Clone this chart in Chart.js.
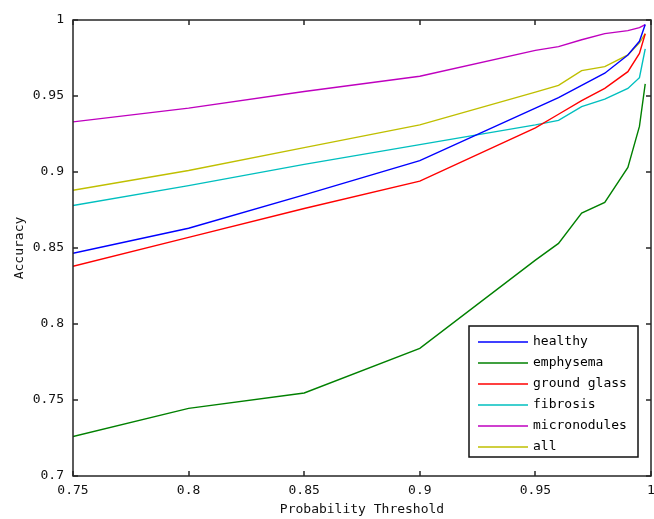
<!DOCTYPE html>
<html>
<head>
<meta charset="utf-8">
<script src="https://cdn.jsdelivr.net/npm/chart.js@4"></script>
<style>
  html, body { margin: 0; padding: 0; background: #fff; }
  canvas { display: block; }
</style>
</head>
<body>
<canvas id="accChart" width="654" height="519"></canvas>
<script>
// probability thresholds (x) and accuracy per class (y)
const thresholds   = [0.75, 0.8, 0.85, 0.9, 0.95, 0.96, 0.97, 0.98, 0.99, 0.995, 0.9975];
const healthy      = [0.8465, 0.863, 0.885, 0.9075, 0.942, 0.949, 0.957, 0.965, 0.977, 0.986, 0.997];
const emphysema    = [0.726, 0.7445, 0.7546, 0.784, 0.842, 0.853, 0.873, 0.880, 0.903, 0.930, 0.958];
const groundGlass  = [0.838, 0.857, 0.876, 0.894, 0.929, 0.938, 0.947, 0.955, 0.966, 0.978, 0.991];
const fibrosis     = [0.878, 0.891, 0.905, 0.918, 0.931, 0.934, 0.943, 0.948, 0.955, 0.962, 0.981];
const micronodules = [0.933, 0.942, 0.953, 0.963, 0.980, 0.9825, 0.987, 0.991, 0.993, 0.995, 0.997];
const allClasses   = [0.888, 0.901, 0.916, 0.931, 0.9525, 0.957, 0.9667, 0.9693, 0.977, 0.985, 0.991];

const seriesNames  = ["healthy", "emphysema", "ground glass", "fibrosis", "micronodules", "all"];
const seriesValues = [healthy, emphysema, groundGlass, fibrosis, micronodules, allClasses];
const seriesColors = ["#0000ff", "#008000", "#ff0000", "#00bfbf", "#bf00bf", "#bfbf00"];

const xTicks = [0.75, 0.8, 0.85, 0.9, 0.95, 1];
const yTicks = [0.7, 0.75, 0.8, 0.85, 0.9, 0.95, 1];

const monoFont = { family: "'DejaVu Sans Mono', monospace", size: 13 };

// matlab style: box, inward ticks on all sides, legend inside lower right
const matlabFrame = {
  id: "matlabFrame",
  afterDraw(chart) {
    const { ctx, chartArea: a, scales: { x, y } } = chart;
    ctx.save();
    ctx.strokeStyle = "#262626";
    ctx.lineWidth = 1.5;
    ctx.strokeRect(a.left, a.top, a.right - a.left, a.bottom - a.top);

    const tl = 5;
    ctx.beginPath();
    x.ticks.forEach(t => {
      const px = Math.round(x.getPixelForValue(t.value));
      ctx.moveTo(px, a.bottom); ctx.lineTo(px, a.bottom - tl);
      ctx.moveTo(px, a.top); ctx.lineTo(px, a.top + tl);
    });
    y.ticks.forEach(t => {
      const py = Math.round(y.getPixelForValue(t.value));
      ctx.moveTo(a.left, py); ctx.lineTo(a.left + tl, py);
      ctx.moveTo(a.right, py); ctx.lineTo(a.right - tl, py);
    });
    ctx.stroke();

    // legend box
    const w = 169, rowH = 21;
    const h = 131;
    const bx = a.right - 13 - w;
    const by = a.bottom - 19 - h;
    ctx.fillStyle = "#fff";
    ctx.fillRect(bx, by, w, h);
    ctx.strokeStyle = "#111";
    ctx.lineWidth = 1.5;
    ctx.strokeRect(bx, by, w, h);
    ctx.font = "13px 'DejaVu Sans Mono', monospace";
    ctx.textBaseline = "middle";
    ctx.textAlign = "left";
    chart.data.datasets.forEach((ds, i) => {
      const ry = by + 16 + i * rowH;
      ctx.strokeStyle = ds.borderColor;
      ctx.lineWidth = 1.5;
      ctx.beginPath();
      ctx.moveTo(bx + 9, ry); ctx.lineTo(bx + 59, ry);
      ctx.stroke();
      ctx.fillStyle = "#000";
      ctx.fillText(ds.label, bx + 64, ry);
    });
    ctx.restore();
  }
};

new Chart(document.getElementById("accChart").getContext("2d"), {
  type: "line",
  data: {
    datasets: seriesNames.map((name, i) => ({
      label: name,
      data: thresholds.map((t, j) => ({ x: t, y: seriesValues[i][j] })),
      borderColor: seriesColors[i],
      backgroundColor: seriesColors[i],
      borderWidth: 1.4,
      pointRadius: 0,
      tension: 0,
      fill: false
    }))
  },
  options: {
    responsive: false,
    animation: false,
    devicePixelRatio: 1,
    layout: { padding: { left: 0, top: 20, right: 3, bottom: 0 } },
    plugins: { legend: { display: false }, tooltip: { enabled: false } },
    scales: {
      x: {
        type: "linear",
        min: 0.75, max: 1,
        afterBuildTicks: s => { s.ticks = xTicks.map(v => ({ value: v })); },
        afterFit: s => { s.height = 43; s.paddingLeft = 0; s.paddingRight = 0; },
        grid: { display: false, drawTicks: false },
        border: { display: false },
        ticks: { font: monoFont, color: "#111", padding: 7, maxRotation: 0,
                 callback: v => String(+v.toFixed(2)) },
        title: { display: true, text: "Probability Threshold", font: monoFont, color: "#111",
                 padding: { top: 0, bottom: 2 } }
      },
      y: {
        type: "linear",
        min: 0.7, max: 1,
        afterBuildTicks: s => { s.ticks = yTicks.map(v => ({ value: v })); },
        afterFit: s => { s.width = 73; s.paddingTop = 0; s.paddingBottom = 0; },
        grid: { display: false, drawTicks: false },
        border: { display: false },
        ticks: { font: monoFont, color: "#111", padding: 9,
                 callback: v => String(+v.toFixed(2)) },
        title: { display: true, text: "Accuracy", font: monoFont, color: "#111",
                 padding: { top: 12, bottom: 0 } }
      }
    }
  },
  plugins: [matlabFrame]
});
</script>
</body>
</html>
